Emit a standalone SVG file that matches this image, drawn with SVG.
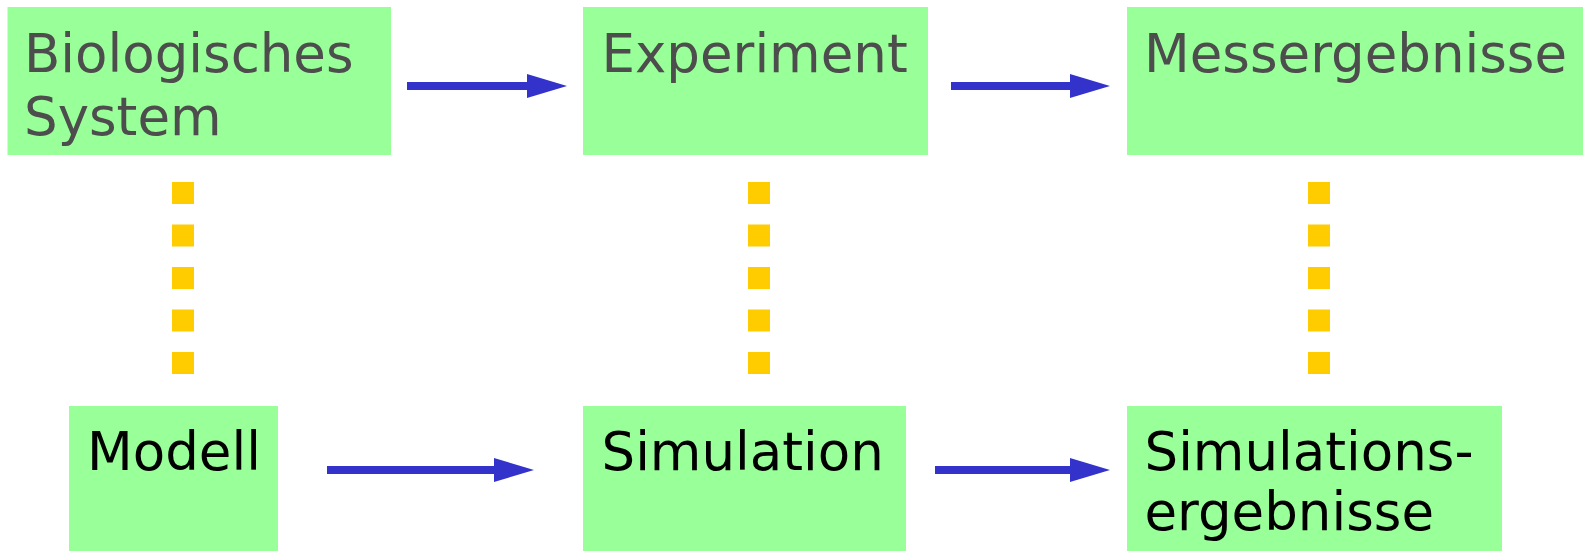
<svg xmlns="http://www.w3.org/2000/svg" width="1583" height="551" viewBox="0 0 1583 551">
  <style>
    .box { fill: #99ff99; }
    .label { font-family: "DejaVu Sans", Verdana, sans-serif; font-size: 53px; }
    .top .label { fill: #4d4d4d; }
    .bottom .label { fill: #000000; }
    .arrow { stroke: #3333cc; stroke-width: 8; fill: none; }
    .head { fill: #3333cc; }
    .dot { fill: #ffcc00; }
  </style>
  <defs>
    <!-- arrowhead, tip at origin -->
    <polygon id="head" class="head" points="-40,-12 0,0 -40,12"/>
    <!-- vertical dotted link: five square dots -->
    <g id="dots">
      <rect class="dot" x="0" y="182" width="22" height="22"/>
      <rect class="dot" x="0" y="224.5" width="22" height="22"/>
      <rect class="dot" x="0" y="267" width="22" height="22"/>
      <rect class="dot" x="0" y="309.5" width="22" height="22"/>
      <rect class="dot" x="0" y="352" width="22" height="22"/>
    </g>
  </defs>

  <rect width="1583" height="551" fill="#ffffff"/>

  <!-- upper row: reality -->
  <g class="top">
    <g id="bio-system">
      <rect class="box" x="7.5" y="7" width="383.5" height="148"/>
      <text class="label" x="24" y="72">Biologisches</text>
      <text class="label" x="24" y="135">System</text>
    </g>
    <g id="experiment">
      <rect class="box" x="583" y="7" width="345" height="148"/>
      <text class="label" x="601.5" y="72">Experiment</text>
    </g>
    <g id="messergebnisse">
      <rect class="box" x="1127" y="7" width="456" height="148"/>
      <text class="label" x="1144" y="72">Messergebnisse</text>
    </g>
  </g>

  <!-- lower row: model world -->
  <g class="bottom">
    <g id="modell">
      <rect class="box" x="69" y="406" width="209" height="145"/>
      <text class="label" x="87" y="470">Modell</text>
    </g>
    <g id="simulation">
      <rect class="box" x="583" y="406" width="323" height="145"/>
      <text class="label" x="601.5" y="470">Simulation</text>
    </g>
    <g id="simulationsergebnisse">
      <rect class="box" x="1127" y="406" width="375" height="145"/>
      <text class="label" x="1144.5" y="470">Simulations-</text>
      <text class="label" x="1144.5" y="530">ergebnisse</text>
    </g>
  </g>

  <!-- connectors -->
  <g id="connectors">
    <line class="arrow" x1="407" y1="86" x2="530" y2="86"/>
    <use href="#head" x="567" y="86"/>
    <line class="arrow" x1="951" y1="86" x2="1074" y2="86"/>
    <use href="#head" x="1110" y="86"/>
    <line class="arrow" x1="327" y1="470" x2="498" y2="470"/>
    <use href="#head" x="534" y="470"/>
    <line class="arrow" x1="935" y1="470" x2="1074" y2="470"/>
    <use href="#head" x="1110" y="470"/>

    <use href="#dots" x="172" y="0"/>
    <use href="#dots" x="748" y="0"/>
    <use href="#dots" x="1308" y="0"/>
  </g>
</svg>
